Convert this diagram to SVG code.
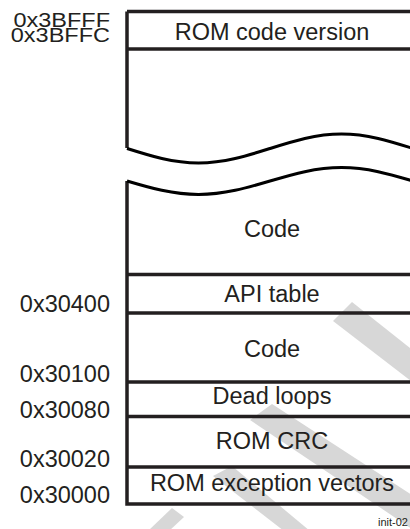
<svg xmlns="http://www.w3.org/2000/svg" width="410" height="529" viewBox="0 0 410 529">
  <style>
    .ln { stroke: #231f20; stroke-width: 3.5; fill: none; }
    .wv { stroke: #000; stroke-width: 3; fill: none; stroke-linejoin: round; }
    .t { font-family: "Liberation Sans", Arial, Helvetica, sans-serif; font-size: 23.5px; fill: #231f20; }
    .addr { text-anchor: end; }
    .seg { text-anchor: middle; }
    .small { font-family: "Liberation Sans", Arial, Helvetica, sans-serif; font-size: 11px; fill: #231f20; text-anchor: end; }
    .wm { fill: #d7d7d7; }
  </style>
  <rect width="410" height="529" fill="#fff"/>

  <g id="watermark">
    <polygon class="wm" points="352,302 415,352 415,384 333,321"/>
    <polygon class="wm" points="272,404 415,497 415,531 250,420"/>
    <polygon class="wm" points="232,466 310,531 284,531 213,476"/>
    <polygon class="wm" points="172,508 184,517 169,531 148,531"/>
  </g>

  <g id="connectors">
    <path class="ln" d="M127,11.5 H412 M127,11.5 V148"/>
    <path class="ln" d="M127,181 V504 H412"/>
    <path class="wv" d="M127,148.5 C150.3,155.9 172.6,163 198.5,163 C224.4,163 246.7,155.9 270,148.5 C293.3,141.1 315.6,134 341.5,134 C367.4,134 389.7,141.1 413,148.5"/>
    <path class="wv" d="M127,181 C150.3,187.9 172.6,194.5 198.5,194.5 C224.4,194.5 246.7,187.9 270,181 C293.3,174.1 315.6,167.5 341.5,167.5 C367.4,167.5 389.7,174.1 413,181"/>
  </g>

  <g id="rom-code-version">
    <line class="ln" x1="127" y1="49" x2="412" y2="49"/>
    <text class="t seg" x="272" y="39.5">ROM code version</text>
  </g>
  <g id="code-upper">
    <text class="t seg" x="272" y="237">Code</text>
  </g>
  <g id="api-table">
    <line class="ln" x1="127" y1="274.5" x2="412" y2="274.5"/>
    <text class="t seg" x="272" y="301.5">API table</text>
  </g>
  <g id="code-lower">
    <line class="ln" x1="127" y1="313" x2="412" y2="313"/>
    <text class="t seg" x="272" y="357">Code</text>
  </g>
  <g id="dead-loops">
    <line class="ln" x1="127" y1="382" x2="412" y2="382"/>
    <text class="t seg" x="272" y="404">Dead loops</text>
  </g>
  <g id="rom-crc">
    <line class="ln" x1="127" y1="416.5" x2="412" y2="416.5"/>
    <text class="t seg" x="272" y="449">ROM CRC</text>
  </g>
  <g id="rom-exception-vectors">
    <line class="ln" x1="127" y1="467" x2="412" y2="467"/>
    <text class="t seg" x="272" y="491">ROM exception vectors</text>
  </g>

  <g id="addresses">
    <g transform="translate(110,0) scale(1,0.85)">
      <text class="t addr" x="0" y="31.8">0x3BFFF</text>
      <text class="t addr" x="0" y="49.5">0x3BFFC</text>
    </g>
    <text class="t addr" x="110" y="312">0x30400</text>
    <text class="t addr" x="110" y="382">0x30100</text>
    <text class="t addr" x="110" y="418">0x30080</text>
    <text class="t addr" x="110" y="467">0x30020</text>
    <text class="t addr" x="110" y="503">0x30000</text>
  </g>

  <g id="figure-id">
    <text class="small" x="408" y="526">init-02</text>
  </g>
</svg>
